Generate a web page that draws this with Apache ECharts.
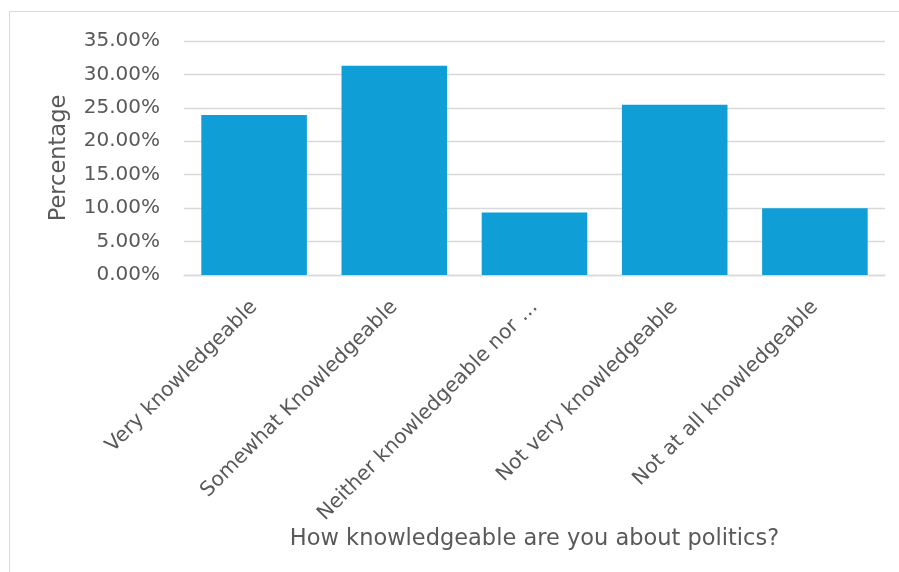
<!DOCTYPE html>
<html>
<head>
<meta charset="utf-8">
<script src="https://cdn.jsdelivr.net/npm/echarts@6/dist/echarts.min.js"></script>
<style>
html,body{margin:0;padding:0;background:#fff;}
#chart{width:899px;height:572px;}
</style>
</head>
<body>
<div id="chart"></div>
<script>
const categories = ["Very knowledgeable", "Somewhat Knowledgeable", "Neither knowledgeable nor \u2026", "Not very knowledgeable", "Not at all knowledgeable"];
const percentages = [23.95, 31.3, 9.35, 25.45, 10.0];
const yTicks = { min: 0, max: 35, interval: 5 };
const xTitle = "How knowledgeable are you about politics?";
const yTitle = "Percentage";

const FONT = "DejaVu Sans";
const TXT = "#595959";
const chart = echarts.init(document.getElementById('chart'), null, {renderer: 'canvas'});
chart.setOption({
  animation: false,
  backgroundColor: '#ffffff',
  graphic: [{
    type: 'rect', silent: true, z: -10,
    shape: {x: 9.5, y: 11.5, width: 1000, height: 1000},
    style: {fill: 'none', stroke: '#d9d9d9', lineWidth: 1}
  }],
  grid: {left: 184, right: 14, top: 41, bottom: 297, containLabel: false},
  xAxis: {
    type: 'category',
    data: categories,
    name: xTitle,
    nameLocation: 'middle',
    nameGap: 243,
    nameTextStyle: {fontFamily: FONT, fontSize: 22.5, color: TXT},
    axisLine: {show: true, lineStyle: {color: '#d9d9d9', width: 1.3}},
    axisTick: {show: false},
    axisLabel: {interval: 0, rotate: 45, margin: 29, fontFamily: FONT, fontSize: 20.3, color: TXT}
  },
  yAxis: {
    type: 'value',
    min: yTicks.min, max: yTicks.max, interval: yTicks.interval,
    name: yTitle,
    nameLocation: 'middle',
    nameGap: 113,
    nameRotate: 90,
    nameTextStyle: {fontFamily: FONT, fontSize: 22.5, color: TXT},
    axisLine: {show: false},
    axisTick: {show: false},
    splitLine: {lineStyle: {color: '#d9d9d9', width: 1.3}},
    axisLabel: {margin: 24, fontFamily: FONT, fontSize: 20, color: TXT,
      formatter: v => v.toFixed(2) + '%'}
  },
  series: [{
    type: 'bar',
    data: percentages,
    barCategoryGap: '24.7%',
    itemStyle: {color: '#0F9ED5'}
  }]
});
</script>
</body>
</html>
